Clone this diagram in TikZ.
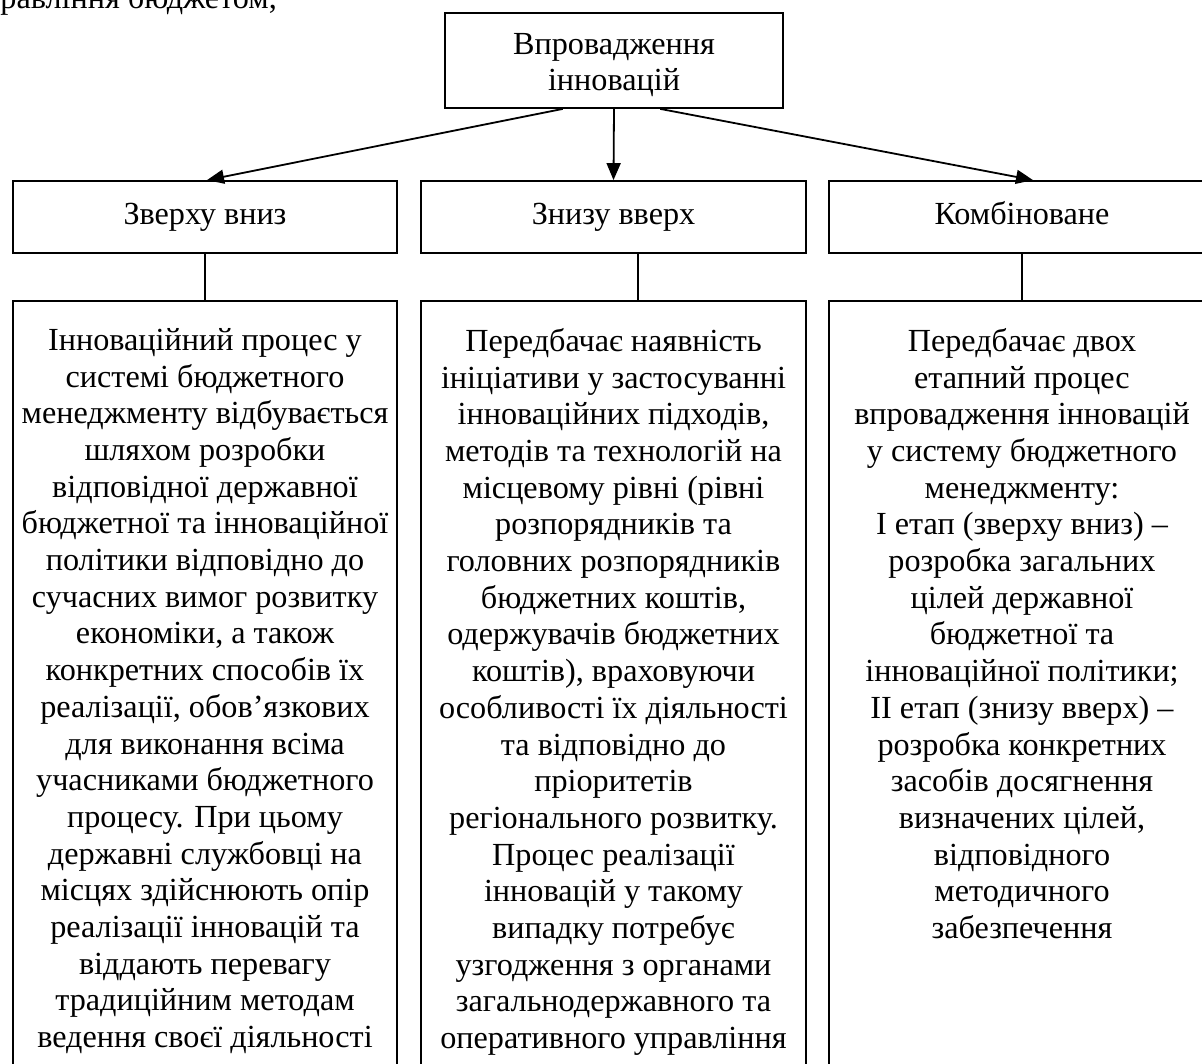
\documentclass[tikz,border=0pt]{standalone}
\usepackage{fontspec}
\setmainfont{Liberation Serif}
\usetikzlibrary{arrows.meta,calc}
\begin{document}
\begin{tikzpicture}[x=1pt,y=-1pt,
  every node/.style={font=\fontsize{32.2}{36.7}\selectfont, inner sep=0pt, align=center},
  frame/.style={draw, line width=1.8pt},
  rowtwo/.style={frame, minimum height=72pt, text height=22pt, text depth=7pt},
  txt/.style={anchor=north, align=center},
  conn/.style={line width=1.8pt},
  arr/.style={line width=1.8pt, -{Triangle[length=17pt,width=14pt]}}
]
\useasboundingbox (0,0) rectangle (1202,1064);
\clip (0,0) rectangle (1202,1064);

% cropped page text at top left
\node[anchor=base east] (pg) at (277,9) {равління бюджетом,};

% top box
\node[frame, minimum width=338pt, minimum height=95pt] (top) at (614,60.5) {};
\node[txt] (toptxt) at ($(top.north)+(0,20.7)$) {Впровадження\\інновацій};

% second row
\node[rowtwo, minimum width=384pt] (al) at (205,217) {Зверху вниз};
\node[rowtwo, minimum width=385pt] (am) at (613.5,217) {Знизу вверх};
\node[rowtwo, minimum width=386pt] (ar) at (1022,217) {Комбіноване};

% third row boxes (run past the bottom edge)
\node[frame, minimum width=384pt, minimum height=800pt] (bl) at (205,701) {};
\node[frame, minimum width=385pt, minimum height=800pt] (bm) at (613.5,701) {};
\node[frame, minimum width=386pt, minimum height=800pt] (br) at (1022,701) {};

% texts
\node[txt] (tl) at ($(bl.north)+(0,28)$) {Інноваційний процес у\\системі бюджетного\\менеджменту відбувається\\шляхом розробки\\відповідної державної\\бюджетної та інноваційної\\політики відповідно до\\сучасних вимог розвитку\\економіки, а також\\конкретних способів їх\\реалізації, обов’язкових\\для виконання всіма\\учасниками бюджетного\\процесу. При цьому\\державні службовці на\\місцях здійснюють опір\\реалізації інновацій та\\віддають перевагу\\традиційним методам\\ведення своєї діяльності};
\node[txt] (tm) at ($(bm.north)+(0,28)$) {Передбачає наявність\\ініціативи у застосуванні\\інноваційних підходів,\\методів та технологій на\\місцевому рівні (рівні\\розпорядників та\\головних розпорядників\\бюджетних коштів,\\одержувачів бюджетних\\коштів), враховуючи\\особливості їх діяльності\\та відповідно до\\пріоритетів\\регіонального розвитку.\\Процес реалізації\\інновацій у такому\\випадку потребує\\узгодження з органами\\загальнодержавного та\\оперативного управління};
\node[txt] (tr) at ($(br.north)+(0,28)$) {Передбачає двох\\етапний процес\\впровадження інновацій\\у систему бюджетного\\менеджменту:\\І етап (зверху вниз) –\\розробка загальних\\цілей державної\\бюджетної та\\інноваційної політики;\\ІІ етап (знизу вверх) –\\розробка конкретних\\засобів досягнення\\визначених цілей,\\відповідного\\методичного\\забезпечення};

% arrows
\draw[arr] ($(top.south west)!0.349!(top.south east)$) -- ($(al.north)+(2,0)$);
\draw[arr] (top.south) -- (am.north);
\draw[arr] ($(top.south west)!0.636!(top.south east)$) -- ($(ar.north)+(11,0)$);

% connectors
\draw[conn] (al.south) -- (bl.north);
\draw[conn] ($(am.south)+(24.5,0)$) -- ($(bm.north)+(24.5,0)$);
\draw[conn] (ar.south) -- (br.north);
\end{tikzpicture}
\end{document}
